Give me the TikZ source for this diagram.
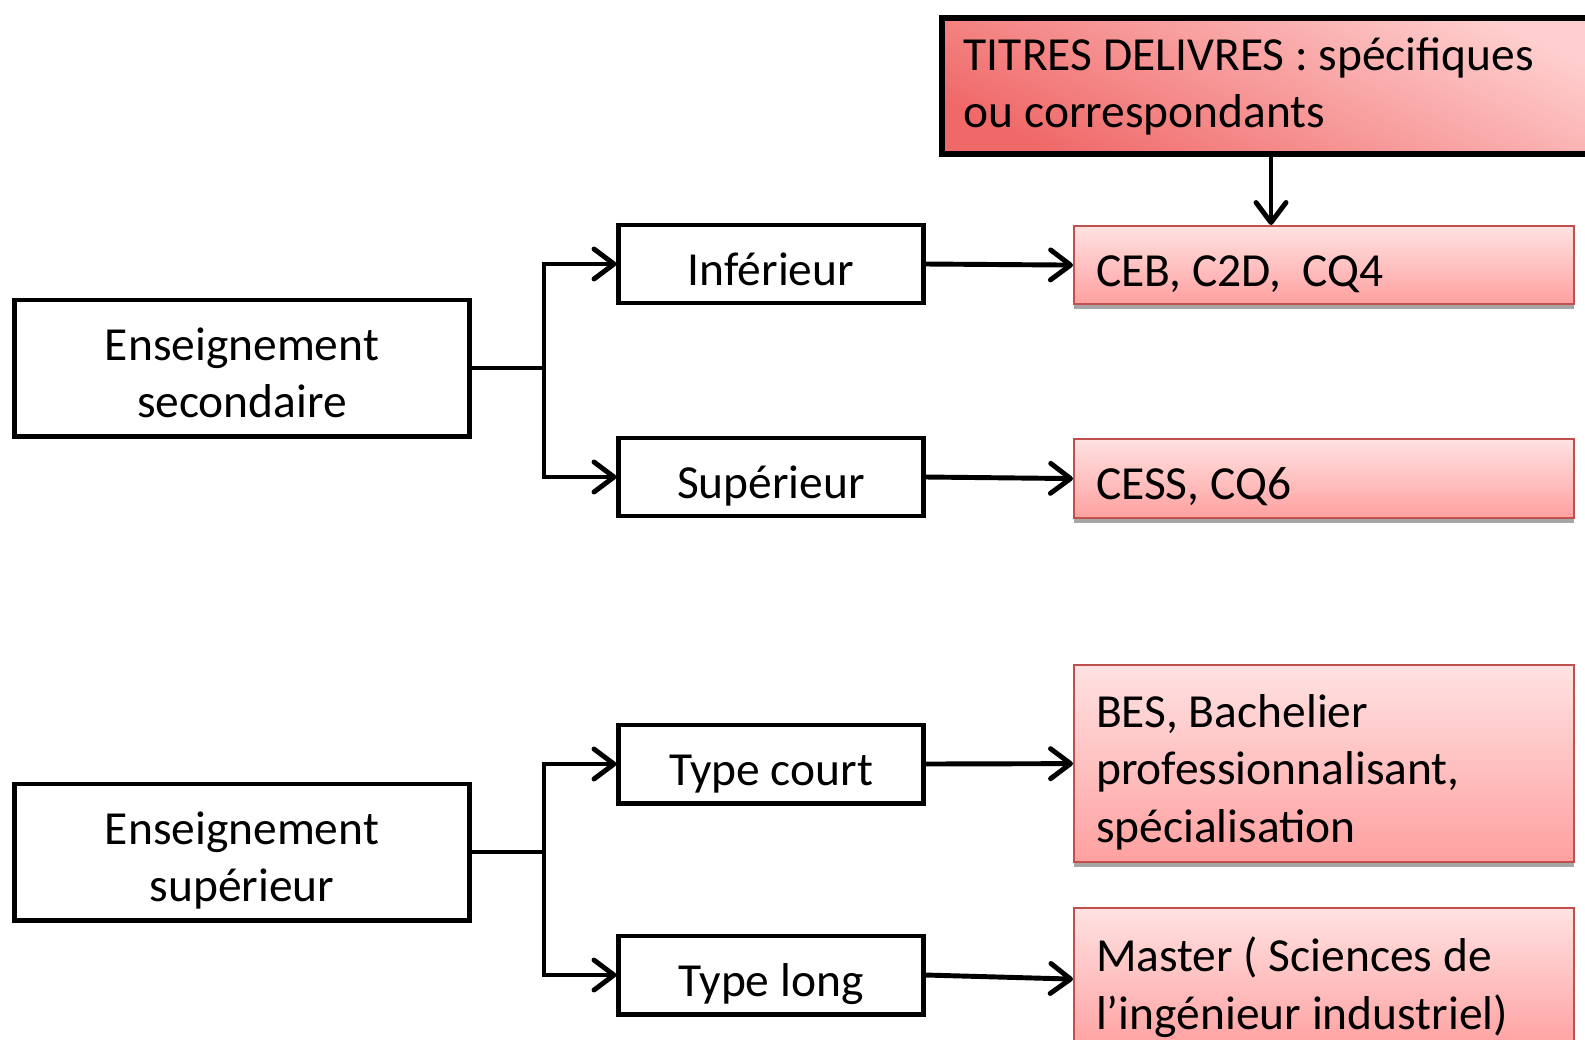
\documentclass[tikz,border=0pt]{standalone}
\usepackage{fontspec}
\setmainfont{Carlito}
\usepackage{tikz}
\usetikzlibrary{arrows.meta,shadows}
\definecolor{redline}{RGB}{192,80,77}
\definecolor{redtop}{RGB}{255,226,226}
\definecolor{redbot}{RGB}{255,160,160}
\definecolor{reddark}{RGB}{240,105,105}

\begin{document}
\begin{tikzpicture}[x=0.01cm, y=-0.01cm,
    every node/.style={font=\fontsize{13.5}{16.4}\selectfont, inner sep=0pt},
    strut/.style={execute at begin node={\spaceskip=0pt\xspaceskip=0pt\rule{0pt}{#1}},
        execute at end node={\rule[-3.5pt]{0pt}{3.5pt}}},
    levelbox/.style={draw, line width=1.4pt, align=center, minimum height=0.78cm, minimum width=3.04cm, strut=15.5pt},
    mainbox/.style={draw, line width=1.4pt, text width=4.3cm, align=center, minimum height=1.36cm,
        minimum width=4.54cm, strut=15.5pt},
    titlebox/.style={draw=redline, line width=0.6pt, top color=redtop, bottom color=redbot,
        drop shadow={shadow xshift=0pt, shadow yshift=-1.3pt, fill=gray!70, opacity=1},
        anchor=north west, minimum width=5cm, text width=4.56cm, align=left, strut=15.5pt},
    link/.style={line width=1.4pt},
    arr/.style={line width=1.4pt, -{Straight Barb[length=2mm,width=3mm,round]}}]
\clip (0,0) rectangle (1585,1039);
\fill[white] (0,0) rectangle (1585,1039);

\node[mainbox] (sec) at (242,368) {Enseignement\\secondaire};
\node[mainbox] (ens) at (242,852) {Enseignement\\supérieur};
\node[levelbox] (inf) at (771,264) {Inférieur};
\node[levelbox] (sup) at (771,477) {Supérieur};
\node[levelbox] (court) at (771,764) {Type court};
\node[levelbox] (long) at (771,975) {Type long};

\node[titlebox, minimum height=0.78cm] (ceb) at (1073,225) {CEB, C2D,\ \ CQ4};
\node[titlebox, minimum height=0.79cm] (cess) at (1073,438) {CESS, CQ6};
\node[titlebox, minimum height=1.97cm] (bes) at (1073,664) {BES, Bachelier\\professionnalisant,\\spécialisation};
\node[titlebox, minimum height=1.42cm] (master) at (1073,907) {Master ( Sciences de\\l’ingénieur industriel)};

\node[draw, line width=1.6pt, anchor=north west, minimum width=6.6cm, minimum height=1.36cm,
    text width=6.16cm, align=left, top color=redtop!70!redbot, bottom color=reddark,
    shading angle=-25, strut=11pt] (titres) at (939,15) {TITRES DELIVRES : spécifiques\\ou correspondants};

\coordinate (j1) at (544,368);
\coordinate (j2) at (544,852);
\draw[link] (sec.east) -- (j1);
\draw[arr] (j1) |- (inf.west);
\draw[arr] (j1) |- (sup.west);
\draw[link] (ens.east) -- (j2);
\draw[arr] (j2) |- (court.west);
\draw[arr] (j2) |- (long.west);

\draw[arr] (inf.east) -- (ceb.west);
\draw[arr] (sup.east) -- (cess.west);
\draw[arr] (court.east) -- (bes.west);
\draw[arr] (long.east) -- (master.west);

\coordinate (t) at (1271,0);
\draw[arr] (titres.south -| t) -- (ceb.north -| t);
\end{tikzpicture}
\end{document}
